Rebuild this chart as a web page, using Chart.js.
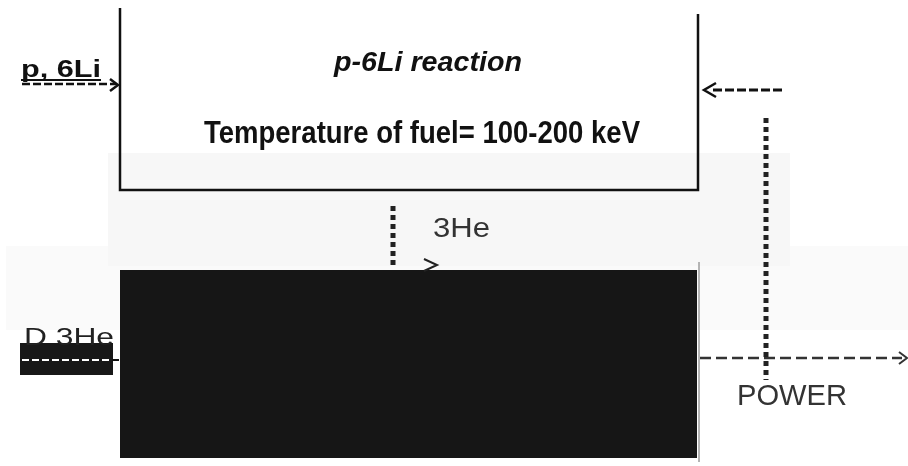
<!DOCTYPE html>
<html>
<head>
<meta charset="utf-8">
<script src="https://cdn.jsdelivr.net/npm/chart.js@4.4.1/dist/chart.umd.min.js"></script>
<style>
  html, body { margin: 0; padding: 0; background: #fff; }
  #wrap { width: 908px; height: 466px; }
</style>
</head>
<body>
<div id="wrap"><canvas id="chart_flow"></canvas></div>
<script>
// diagram space is 908 x 466, y grows downward

// reactor box (open at the top)
var boxX = [120, 120, 698, 698]
var boxY = [8, 190, 190, 14]

// converter block (filled black)
var blockX = [120, 697]
var blockTop = [270, 270]
var blockBottom = [458, 458]

// D-3He feed bar
var feedX = [20, 113]
var feedTop = [343, 343]
var feedBottom = [375, 375]

// faint grey background bands of the scan
var bandUpX = [108, 790]
var bandUpTop = [153, 153]
var bandUpBottom = [266, 266]
var bandLowX = [6, 908]
var bandLowTop = [246, 246]
var bandLowBottom = [330, 330]

// flow lines
var fuelInX = [22, 116], fuelInY = [84, 84]
var backX = [782, 710], backY = [90, 90]
var he3X = [393, 393], he3Y = [206, 266]
var tapX = [766, 766], tapY = [118, 380]
var powerX = [700, 902], powerY = [358, 358]
var feedLineX = [22, 112], feedLineY = [360, 360]
var feedTipX = [112, 119], feedTipY = [360, 360]

// arrow heads
var headFuelX = [110, 118, 110], headFuelY = [79, 85, 91]
var headBackX = [716, 704, 716], headBackY = [83, 90, 97]
var headHeX = [424, 437, 424], headHeY = [259, 265, 271]
var headPowerX = [899, 907, 899], headPowerY = [352, 358, 364]

// texts
var labelText = ["p-6Li reaction", "Temperature of fuel= 100-200 keV", "p, 6Li", "D 3He", "3He", "POWER"]
var labelX = [334, 204, 21, 24, 433, 737]
var labelY = [71, 143, 77, 345, 237, 405]
var labelW = [188, 436, 80, 90, 57, 110]
var labelFont = ["italic bold 28px 'Liberation Sans'", "bold 31px 'Liberation Sans'", "bold 23px 'Liberation Sans'",
                 "24px 'Liberation Sans'", "27px 'Liberation Sans'", "30px 'Liberation Sans'"]
var labelColor = ["#111", "#111", "#111", "#222", "#333", "#333"]

function pts(xs, ys) {
    var out = []
    xs.forEach(function (x, i) { out.push({x: x, y: ys[i]}) })
    return out
}

function stroke(xs, ys, color, width, dash, order) {
    return {
        data: pts(xs, ys),
        borderColor: color,
        borderWidth: width,
        borderDash: dash || [],
        borderCapStyle: 'butt',
        fill: false,
        pointRadius: 0,
        tension: 0,
        order: order || 1
    }
}

function area(xs, top, color, order) {
    return {
        data: pts(xs, top),
        borderWidth: 0,
        backgroundColor: color,
        fill: '+1',
        pointRadius: 0,
        order: order
    }
}

function edge(xs, bottom, order) {
    return { data: pts(xs, bottom), borderWidth: 0, pointRadius: 0, fill: false, order: order }
}

//writes all the texts through the scales
var textPlugin = {
    id: 'texts',
    afterDatasetsDraw: function (chart) {
        var c = chart.ctx
        var sx = chart.scales.x, sy = chart.scales.y
        labelText.forEach(function (t, i) {
            c.save()
            c.font = labelFont[i]
            c.fillStyle = labelColor[i]
            c.textBaseline = 'alphabetic'
            var px = sx.getPixelForValue(labelX[i])
            var py = sy.getPixelForValue(labelY[i])
            var w = c.measureText(t).width
            var k = labelW[i] / w
            c.translate(px, py)
            c.scale(k, 1)
            c.fillText(t, 0, 0)
            c.restore()
            if (t === "p, 6Li") { // underlined
                c.save()
                c.strokeStyle = '#111'
                c.lineWidth = 2
                c.beginPath()
                c.moveTo(px, py + 3)
                c.lineTo(px + labelW[i], py + 3)
                c.stroke()
                c.restore()
            }
        })
    }
}

var datasets = [
    // arrows and lines on top
    stroke(feedLineX, feedLineY, '#fff', 2, [7, 3], 0),
    stroke(feedTipX, feedTipY, '#111', 2, [], 0),
    stroke(boxX, boxY, '#111', 2.5),
    stroke(fuelInX, fuelInY, '#111', 2.5, [8, 3]),
    stroke(headFuelX, headFuelY, '#111', 2.5),
    stroke(backX, backY, '#111', 3, [9, 3]),
    stroke(headBackX, headBackY, '#111', 2.5),
    stroke(he3X, he3Y, '#222', 5, [5, 4]),
    stroke(headHeX, headHeY, '#222', 2),
    stroke(tapX, tapY, '#222', 5, [5, 4]),
    stroke(powerX, powerY, '#333', 2.5, [11, 5]),
    stroke(headPowerX, headPowerY, '#333', 2),
    stroke([699, 699], [262, 462], '#aaa', 1),
    // filled blocks
    area(blockX, blockTop, '#161616', 5),
    edge(blockX, blockBottom, 5),
    area(feedX, feedTop, '#181818', 5),
    edge(feedX, feedBottom, 5),
    // background bands
    area(bandLowX, bandLowTop, '#fafafa', 20),
    edge(bandLowX, bandLowBottom, 20),
    area(bandUpX, bandUpTop, '#f7f7f7', 19),
    edge(bandUpX, bandUpBottom, 19)
]

var ctx = document.getElementById('chart_flow').getContext('2d')
var myChartFlow = new Chart(ctx, {
    type: 'line',
    data: { datasets: datasets },
    options: {
        responsive: true,
        maintainAspectRatio: false,
        animation: false,
        layout: { padding: 0 },
        plugins: { legend: { display: false }, tooltip: { enabled: false } },
        scales: {
            x: { type: 'linear', min: 0, max: 908, display: false },
            y: { type: 'linear', min: 0, max: 466, reverse: true, display: false }
        }
    },
    plugins: [textPlugin]
})
</script>
</body>
</html>
